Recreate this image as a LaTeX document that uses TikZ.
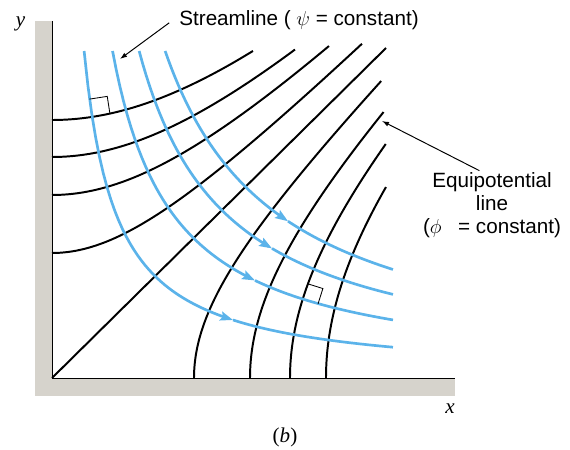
\documentclass[tikz,border=0pt]{standalone}
\usepackage{fontspec}
\setmainfont{Liberation Sans}
\newfontfamily\serif{Liberation Serif}
\usepackage{tikz}
\usetikzlibrary{positioning, arrows.meta}
\definecolor{flowblue}{RGB}{91, 179, 234}
\definecolor{wallgray}{RGB}{214, 211, 204}

\begin{document}
\begin{tikzpicture}[x=2.5cm, y=2.5cm, every node/.style={font=\fontsize{14.7}{16.4}\selectfont, inner sep=1pt}]
        \useasboundingbox (-0.52,-0.72) rectangle (5.18,3.78);
        % walls
        \fill[wallgray] (-0.17,-0.18) rectangle (0,3.57);
        \fill[wallgray] (-0.17,-0.18) rectangle (4.03,0);
        \draw[line width=0.7pt] (0,3.57) -- (0,0) -- (4.03,0);
        % equipotential lines
        \foreach \b/\xe in {2.58/2.01, 2.21/2.43, 1.83/2.77, 1.25/3.10} { \draw[line width=1.4pt] plot[domain=0:\xe, samples=40, smooth] (\x,{sqrt(\b*\b+\x*\x)}); }
        \draw[line width=1.4pt] (0,0) -- (3.34,3.30);
        \foreach \a/\ye in {1.42/2.97, 1.98/2.66, 2.38/2.34, 2.74/1.91} { \draw[line width=1.4pt] plot[domain=0:\ye, samples=40, smooth] ({sqrt(\a*\a+\x*\x)},\x); }
        % streamlines
        \foreach \k/\xa in {1.05/1.81, 1.98/2.03, 2.85/2.20, 3.70/2.36} {
          \pgfmathsetmacro\xs{\k/3.27}
          \draw[flowblue, line width=1.9pt, -{Stealth[length=9pt,width=6.5pt,inset=1.5pt]}] plot[domain=\xs:\xa, samples=40] (\x,{\k/\x});
          \draw[flowblue, line width=1.9pt] plot[domain=\xa:3.41, samples=30] (\x,{\k/\x});
        }
        % right angle marks
        \coordinate (c1) at (0.402,2.611);
        \draw[line width=0.6pt] (c1) ++(98.75:0.18) -- ++(8.75:0.18) -- ++(-81.25:0.18);
        \coordinate (c2) at (2.508,0.790);
        \draw[line width=0.6pt] (c2) ++(72.5:0.16) -- ++(-17.5:0.16) -- ++(-107.5:0.16);
        % labels
        \node (slab) at (2.47,3.58) {Streamline ( $\psi$ = constant)};
        \coordinate (stip) at (0.68,3.19);
        \draw[line width=0.7pt, -{Latex[length=5pt,width=3.5pt]}] ([xshift=-6pt,yshift=-2pt]slab.west) -- (stip);
        \node[align=center] (elab) at (4.40,1.73) {Equipotential\\line\\($\phi$\hspace{0.8em}= constant)};
        \coordinate (etip) at (3.30,2.57);
        \draw[line width=0.7pt, -{Latex[length=5pt,width=3.5pt]}] ([xshift=-9pt]elab.north) -- (etip);
        \node[font=\fontsize{15}{18}\serif\itshape] (ylab) at (-0.315,3.54) {y};
        \node[font=\fontsize{15}{18}\serif\itshape] (xlab) at (3.98,-0.31) {x};
        \node[font=\fontsize{15}{18}\serif] (blab) at (2.33,-0.59) {(\textit{b})};
      \end{tikzpicture}
\end{document}
